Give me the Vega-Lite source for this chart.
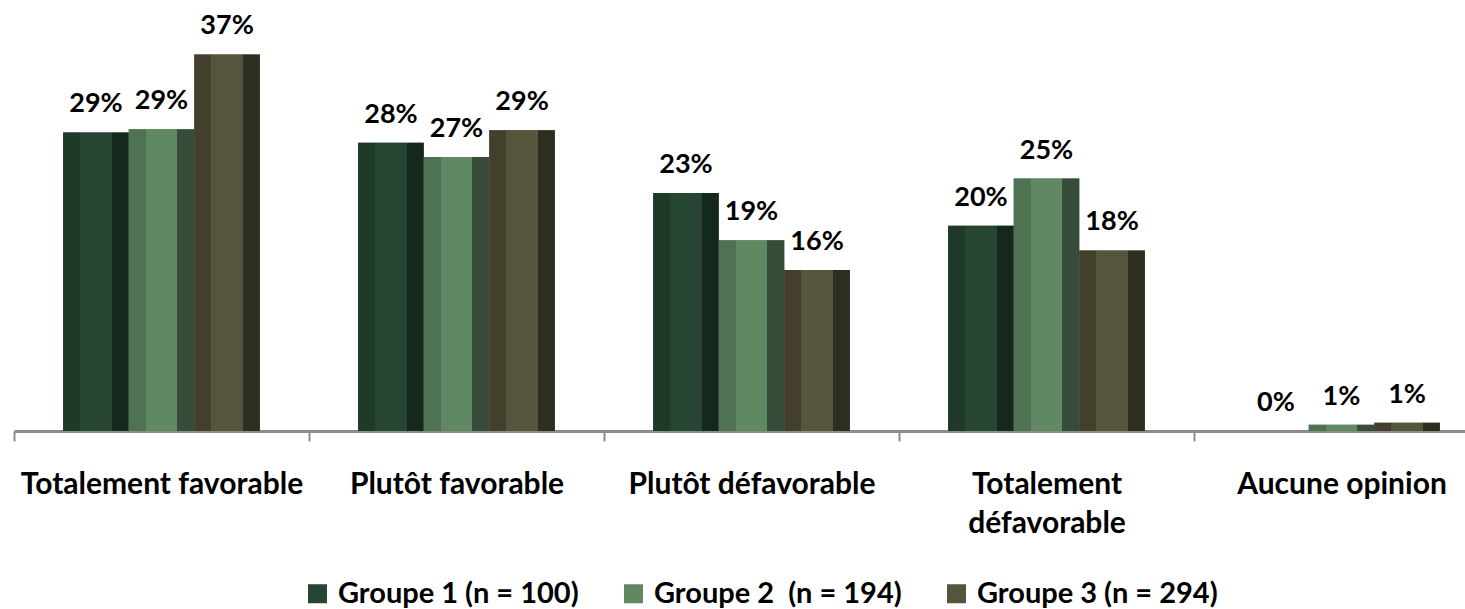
{
  "$schema": "https://vega.github.io/schema/vega-lite/v6.json",
  "width": 1451,
  "height": 431,
  "autosize": {"type": "none"},
  "padding": {"left": 14, "top": 0, "right": 0, "bottom": 178},
  "background": "white",
  "config": {"view": {"stroke": null}, "font": "Lato"},
  "data": {
    "values": [
      {"categorie": "Totalement favorable", "groupe": "Groupe 1 (n = 100)", "pct": 0.291},
      {"categorie": "Totalement favorable", "groupe": "Groupe 2\u00a0 (n = 194)", "pct": 0.294},
      {"categorie": "Totalement favorable", "groupe": "Groupe 3 (n = 294)", "pct": 0.367},
      {"categorie": "Plutôt favorable", "groupe": "Groupe 1 (n = 100)", "pct": 0.281},
      {"categorie": "Plutôt favorable", "groupe": "Groupe 2\u00a0 (n = 194)", "pct": 0.267},
      {"categorie": "Plutôt favorable", "groupe": "Groupe 3 (n = 294)", "pct": 0.293},
      {"categorie": "Plutôt défavorable", "groupe": "Groupe 1 (n = 100)", "pct": 0.232},
      {"categorie": "Plutôt défavorable", "groupe": "Groupe 2\u00a0 (n = 194)", "pct": 0.186},
      {"categorie": "Plutôt défavorable", "groupe": "Groupe 3 (n = 294)", "pct": 0.157},
      {"categorie": "Totalement défavorable", "groupe": "Groupe 1 (n = 100)", "pct": 0.200},
      {"categorie": "Totalement défavorable", "groupe": "Groupe 2\u00a0 (n = 194)", "pct": 0.246},
      {"categorie": "Totalement défavorable", "groupe": "Groupe 3 (n = 294)", "pct": 0.176},
      {"categorie": "Aucune opinion", "groupe": "Groupe 1 (n = 100)", "pct": 0.0},
      {"categorie": "Aucune opinion", "groupe": "Groupe 2\u00a0 (n = 194)", "pct": 0.006},
      {"categorie": "Aucune opinion", "groupe": "Groupe 3 (n = 294)", "pct": 0.008}
    ]
  },
  "encoding": {
    "x": {
      "field": "categorie",
      "type": "nominal",
      "sort": ["Totalement favorable", "Plutôt favorable", "Plutôt défavorable", "Totalement défavorable", "Aucune opinion"],
      "scale": {"range": [0, 1475], "paddingInner": 0, "paddingOuter": 0},
      "axis": {
        "title": null,
        "labelAngle": 0,
        "domainColor": "#8c8c8c",
        "domainWidth": 3,
        "tickColor": "#8c8c8c",
        "tickWidth": 2,
        "tickSize": 10,
        "tickBand": "extent",
        "labelFont": "Lato",
        "labelFontSize": 30,
        "labelFontWeight": "bold",
        "labelColor": "black",
        "labelBaseline": "alphabetic",
        "labelPadding": 52,
        "labelLineHeight": 39,
        "labelLimit": 0,
        "labelOverlap": false,
        "labelExpr": "datum.value == 'Totalement défavorable' ? ['Totalement', 'défavorable'] : datum.value"
      }
    },
    "xOffset": {
      "field": "groupe",
      "type": "nominal",
      "scale": {
        "domain": ["Groupe 1 (n = 100)", "Groupe 2\u00a0 (n = 194)", "Groupe 3 (n = 294)"],
        "paddingInner": 0,
        "paddingOuter": 0.75
      }
    },
    "y": {
      "field": "pct",
      "type": "quantitative",
      "scale": {"domain": [0, 0.42]},
      "axis": null
    }
  },
  "layer": [
    {
      "mark": {"type": "bar"},
      "encoding": {
        "color": {
          "field": "groupe",
          "type": "nominal",
          "scale": {
            "domain": ["Groupe 1 (n = 100)", "Groupe 2\u00a0 (n = 194)", "Groupe 3 (n = 294)"],
            "range": ["#264532", "#5f8863", "#55553b"]
          },
          "legend": {
            "title": null,
            "orient": "none",
            "legendX": 289,
            "legendY": 579,
            "direction": "horizontal",
            "symbolType": "square",
            "symbolSize": 361,
            "symbolStrokeWidth": 0,
            "labelFont": "Lato",
            "labelFontSize": 29,
            "labelFontWeight": "bold",
            "labelColor": "black",
            "labelOffset": 6,
            "labelLimit": 0,
            "columnPadding": 40
          }
        }
      }
    },
    {
      "transform": [{"filter": "datum.groupe == 'Groupe 1 (n = 100)'"}],
      "mark": {
        "type": "bar",
        "fill": {
          "gradient": "linear", "x1": 0, "y1": 0, "x2": 1, "y2": 0,
          "stops": [
            {"offset": 0, "color": "#1f3a29"}, {"offset": 0.26, "color": "#1f3a29"},
            {"offset": 0.26, "color": "#264532"}, {"offset": 0.74, "color": "#264532"},
            {"offset": 0.74, "color": "#14281c"}, {"offset": 1, "color": "#14281c"}
          ]
        }
      }
    },
    {
      "transform": [{"filter": "datum.groupe == 'Groupe 2\u00a0 (n = 194)'"}],
      "mark": {
        "type": "bar",
        "fill": {
          "gradient": "linear", "x1": 0, "y1": 0, "x2": 1, "y2": 0,
          "stops": [
            {"offset": 0, "color": "#4e7252"}, {"offset": 0.26, "color": "#4e7252"},
            {"offset": 0.26, "color": "#5f8863"}, {"offset": 0.74, "color": "#5f8863"},
            {"offset": 0.74, "color": "#374c39"}, {"offset": 1, "color": "#374c39"}
          ]
        }
      }
    },
    {
      "transform": [{"filter": "datum.groupe == 'Groupe 3 (n = 294)'"}],
      "mark": {
        "type": "bar",
        "fill": {
          "gradient": "linear", "x1": 0, "y1": 0, "x2": 1, "y2": 0,
          "stops": [
            {"offset": 0, "color": "#433f2c"}, {"offset": 0.26, "color": "#433f2c"},
            {"offset": 0.26, "color": "#55553b"}, {"offset": 0.74, "color": "#55553b"},
            {"offset": 0.74, "color": "#2e2e20"}, {"offset": 1, "color": "#2e2e20"}
          ]
        }
      }
    },
    {
      "mark": {"type": "text", "baseline": "alphabetic", "dy": -20, "font": "Lato", "fontSize": 27, "fontWeight": "bold", "color": "black"},
      "encoding": {"text": {"field": "pct", "type": "quantitative", "format": ".0%"}}
    }
  ]
}
